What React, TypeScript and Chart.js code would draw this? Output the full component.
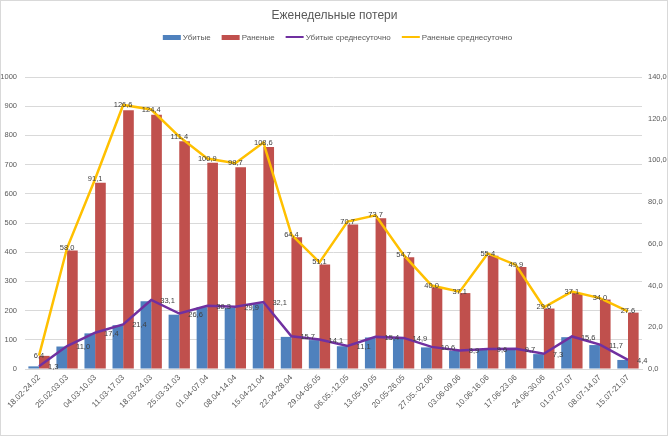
import React, { useEffect, useRef } from 'react';
import { Chart, registerables } from 'chart.js';

Chart.register(...registerables);

const categories = [
  '18.02-24.02', '25.02-03.03', '04.03-10.03', '11.03-17.03', '18.03-24.03', '25.03-31.03',
  '01.04-07.04', '08.04-14.04', '15.04-21.04', '22.04-28.04', '29.04-05.05', '06.05.-12.05',
  '13.05-19.05', '20.05-26.05', '27.05.-02.06', '03.06-09.06', '10.06-16.06', '17.06-23.06',
  '24.06-30.06', '01.07-07.07', '08.07-14.07', '15.07-21.07',
];

const killed = [9, 77, 122, 150, 232, 186, 212, 209, 225, 110, 99, 78, 108, 104, 74, 62, 67, 68, 51, 109, 82, 31];
const wounded = [45, 406, 638, 886, 871, 780, 706, 691, 760, 451, 358, 495, 516, 383, 280, 260, 388, 349, 207, 260, 238, 193];
const killedDaily = [1.3, 11.0, 17.4, 21.4, 33.1, 26.6, 30.3, 29.9, 32.1, 15.7, 14.1, 11.1, 15.4, 14.9, 10.6, 8.9, 9.6, 9.7, 7.3, 15.6, 11.7, 4.4];
const woundedDaily = [6.4, 58.0, 91.1, 126.6, 124.4, 111.4, 100.9, 98.7, 108.6, 64.4, 51.1, 70.7, 73.7, 54.7, 40.0, 37.1, 55.4, 49.9, 29.6, 37.1, 34.0, 27.6];

const title = 'Еженедельные потери';
const seriesNames = ['Убитые', 'Раненые', 'Убитые среднесуточно', 'Раненые среднесуточно'];
const leftMax = 1000;
const leftStep = 100;
const rightMax = 140;
const rightStep = 20;

const FONT = '"Liberation Sans", Arial, sans-serif';
const GREY = '#595959';
const fmt = (v: number) => v.toFixed(1).replace('.', ',');

const backgroundPlugin = {
  id: 'bgBorder',
  beforeDraw(chart: any) {
    const { ctx, width, height } = chart;
    ctx.save();
    ctx.fillStyle = '#ffffff';
    ctx.fillRect(0, 0, width, height);
    ctx.restore();
  },
  afterDraw(chart: any) {
    const { ctx, width, height } = chart;
    ctx.save();
    ctx.strokeStyle = '#d9d9d9';
    ctx.lineWidth = 1;
    ctx.strokeRect(0.5, 0.5, width - 2, height - 2);
    ctx.restore();
  },
};

const legendPlugin = {
  id: 'customLegend',
  afterDraw(chart: any) {
    const { ctx } = chart;
    const ds = chart.data.datasets;
    ctx.save();
    ctx.font = `8px ${FONT}`;
    const marker = 18;
    const gap = 2;
    const spacing = 11;
    const widths = ds.map((d: any) => marker + gap + ctx.measureText(d.label).width);
    const total = widths.reduce((a: number, b: number) => a + b, 0) + spacing * (ds.length - 1);
    let x = chart.width / 2 + 3 - total / 2;
    const y = 37;
    ds.forEach((d: any, i: number) => {
      if (d.type === 'line') {
        ctx.fillStyle = d.borderColor;
        ctx.fillRect(x, y - 1, marker, 2);
      } else {
        ctx.fillStyle = d.backgroundColor;
        ctx.fillRect(x, y - 2, marker, 5);
      }
      ctx.fillStyle = GREY;
      ctx.textBaseline = 'middle';
      ctx.textAlign = 'left';
      ctx.fillText(d.label, x + marker + gap, y + 0.5);
      x += widths[i] + spacing;
    });
    ctx.restore();
  },
};

const labelPlugin = {
  id: 'lineLabels',
  afterDatasetsDraw(chart: any) {
    const { ctx } = chart;
    ctx.save();
    ctx.font = `7.5px ${FONT}`;
    ctx.fillStyle = '#404040';
    ctx.textBaseline = 'middle';
    chart.data.datasets.forEach((d: any, di: number) => {
      if (d.type !== 'line') return;
      const meta = chart.getDatasetMeta(di);
      meta.data.forEach((pt: any, i: number) => {
        const txt = fmt(d.data[i]);
        if (d.labelPos === 'right') {
          ctx.textAlign = 'left';
          ctx.fillText(txt, pt.x + 9, pt.y + 1);
        } else {
          ctx.textAlign = 'center';
          ctx.fillText(txt, pt.x, pt.y);
        }
      });
    });
    ctx.restore();
  },
};

export default function App() {
  const ref = useRef<HTMLCanvasElement>(null);

  useEffect(() => {
    document.body.style.margin = '0';
    const canvas = ref.current!;
    const chart = new Chart(canvas, {
      type: 'bar',
      data: {
        labels: categories,
        datasets: [
          {
            type: 'bar',
            label: seriesNames[0],
            data: killed,
            backgroundColor: '#4f81bd',
            yAxisID: 'y',
            order: 1,
            categoryPercentage: 0.76,
            barPercentage: 1.0,
          },
          {
            type: 'bar',
            label: seriesNames[1],
            data: wounded,
            backgroundColor: '#c0504d',
            yAxisID: 'y',
            order: 1,
            categoryPercentage: 0.76,
            barPercentage: 1.0,
          },
          {
            type: 'line',
            label: seriesNames[2],
            data: killedDaily,
            borderColor: '#7030a0',
            backgroundColor: '#7030a0',
            borderWidth: 2.5,
            pointRadius: 0,
            tension: 0,
            yAxisID: 'y1',
            order: 0,
            labelPos: 'right',
          } as any,
          {
            type: 'line',
            label: seriesNames[3],
            data: woundedDaily,
            borderColor: '#ffc000',
            backgroundColor: '#ffc000',
            borderWidth: 2.5,
            pointRadius: 0,
            tension: 0,
            yAxisID: 'y1',
            order: 0,
            labelPos: 'center',
          } as any,
        ],
      },
      options: {
        responsive: false,
        animation: false,
        devicePixelRatio: 1,
        layout: { padding: 0 },
        plugins: {
          legend: { display: false },
          tooltip: { enabled: false },
          title: {
            display: true,
            text: title,
            color: GREY,
            font: { family: FONT, size: 12, weight: 'normal', lineHeight: 1.2 },
            padding: { top: 8, bottom: 54.6 },
          },
        },
        scales: {
          x: {
            offset: true,
            grid: { display: false, drawTicks: false },
            border: { display: true, color: '#d9d9d9' },
            ticks: {
              autoSkip: false,
              minRotation: 45,
              maxRotation: 45,
              padding: 4,
              color: GREY,
              font: { family: FONT, size: 8 },
            },
            afterFit(scale: any) {
              scale.height = 68;
            },
          },
          y: {
            position: 'left',
            min: 0,
            max: leftMax,
            grid: { color: '#d9d9d9', drawTicks: false },
            border: { display: false },
            ticks: {
              stepSize: leftStep,
              padding: 8,
              color: GREY,
              font: { family: FONT, size: 7.5 },
              callback: (v: any) => String(v),
            },
            afterFit(scale: any) {
              scale.width = 25;
            },
          },
          y1: {
            position: 'right',
            min: 0,
            max: rightMax,
            grid: { drawOnChartArea: false, drawTicks: false },
            border: { display: false },
            ticks: {
              stepSize: rightStep,
              padding: 6,
              color: GREY,
              font: { family: FONT, size: 7.5 },
              callback: (v: any) => fmt(Number(v)),
            },
            afterFit(scale: any) {
              scale.width = 27;
            },
          },
        },
      },
      plugins: [backgroundPlugin, legendPlugin, labelPlugin],
    } as any);
    return () => chart.destroy();
  }, []);

  return (
    <div style={{ position: 'absolute', left: 0, top: 0, width: 669, height: 437 }}>
      <canvas ref={ref} width={669} height={437} style={{ display: 'block', width: 669, height: 437 }} />
    </div>
  );
}
